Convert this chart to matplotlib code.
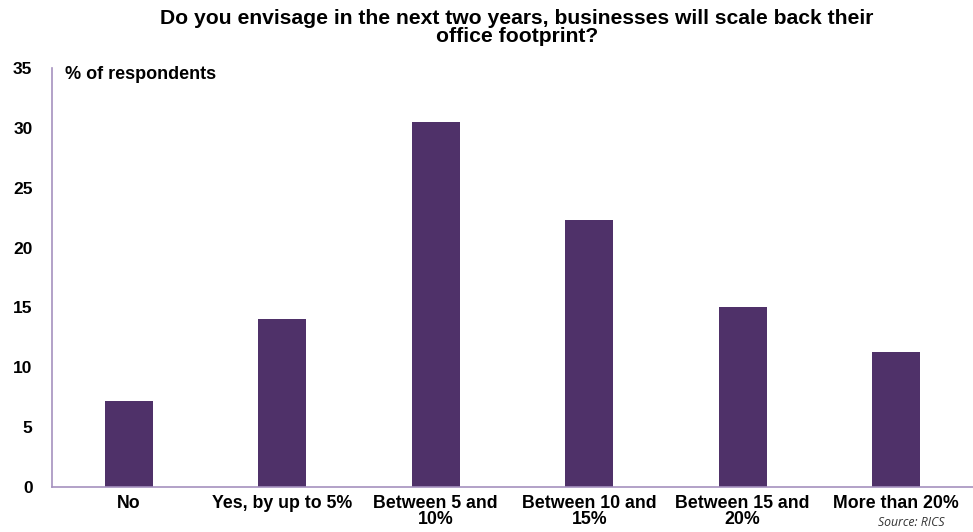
import matplotlib
matplotlib.use("Agg")
import matplotlib.pyplot as plt

categories = ["No", "Yes, by up to 5%", "Between 5 and\n10%", "Between 10 and\n15%", "Between 15 and\n20%", "More than 20%"]
values = [7.2, 14.0, 30.5, 22.3, 15.0, 11.3]
yticks = [0, 5, 10, 15, 20, 25, 30, 35]

plt.rcParams['font.family'] = ['Liberation Sans', 'DejaVu Sans']

fig = plt.figure(figsize=(9.73, 5.32), dpi=100)
ax = fig.add_axes([0.0534, 0.0846, 0.9466, 0.7874])

x = range(len(categories))
ax.bar(x, values, width=0.31, color="#4f3169")
ax.set_xlim(-0.5, len(categories) - 0.5)
ax.set_ylim(0, 35)
ax.set_yticks(yticks)
ax.set_xticks(list(x))
ax.set_xticklabels(categories, fontsize=12.8, fontweight="bold", linespacing=0.9)
ax.set_yticklabels([str(t) for t in yticks], fontsize=12.5, fontweight="bold")
ax.tick_params(axis="both", length=0, pad=14)
ax.tick_params(axis="x", pad=6)

for s in ["top", "right"]:
    ax.spines[s].set_visible(False)
for s in ["left", "bottom"]:
    ax.spines[s].set_color("#a591bf")
    ax.spines[s].set_linewidth(1.2)

ax.text(0.014, 0.985, "% of respondents", transform=ax.transAxes, fontsize=13,
        fontweight="bold", va="center", ha="left")

fig.text(0.531, 0.948, "Do you envisage in the next two years, businesses will scale back their\noffice footprint?",
         ha="center", va="center", fontsize=15.2, fontweight="bold", linespacing=0.9)

fig.text(0.902, 0.018, "Source: RICS", fontsize=8.8, style="italic", family="Open Sans",
         ha="left", va="center", color="#333333")

fig.savefig("out.png", dpi=100)
